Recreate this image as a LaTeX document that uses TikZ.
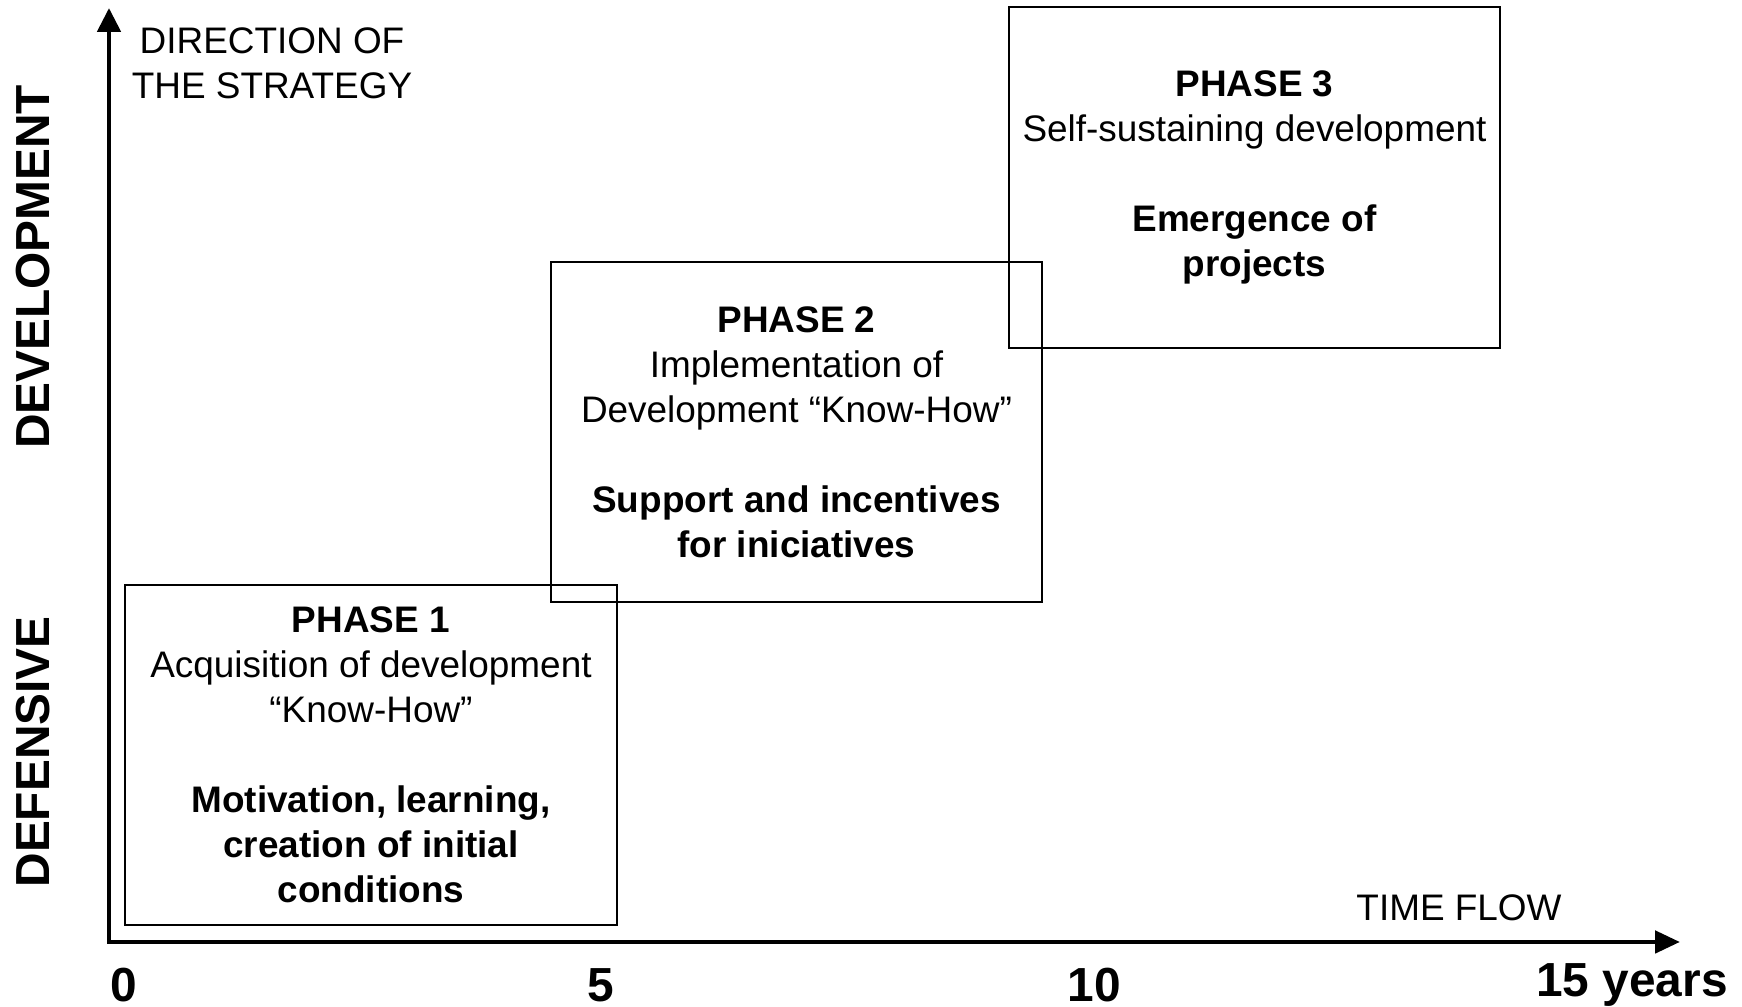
\documentclass[tikz,border=0pt]{standalone}
\usepackage{fontspec}
\setmainfont{Liberation Sans}
\usetikzlibrary{arrows.meta}

\begin{document}
\begin{tikzpicture}[x=0.01cm,y=0.01cm,
	axis/.style={line width=1.4pt,{Triangle[width=0.23cm,length=0.24cm]}-{Triangle[width=0.22cm,length=0.25cm]}},
	phase/.style={draw,line width=0.6pt,inner sep=0pt,minimum width=4.91cm,minimum height=3.40cm,
		align=center,font=\fontsize{10.5}{12.8}\selectfont},
	axislabel/.style={font=\fontsize{10.5}{12.8}\selectfont,align=center},
	big/.style={font=\fontsize{13.6}{15}\selectfont\bfseries}]

	% ---- frame

	\useasboundingbox (0,0) rectangle (1742,1007);

	% ---- coordinates

	\coordinate (O) at (109,65);
	\coordinate (Ytop) at (109,999);
	\coordinate (Xend) at (1680,65);

	% ---- axes

	\draw[axis] (Ytop) -- (O) -- (Xend);

	% ---- axes labels

	\node[axislabel] (dir) at (272,944) {DIRECTION OF\\THE STRATEGY};
	\node[axislabel] (time) at (1459,99) {TIME FLOW};

	\node[big,rotate=90] (dev) at (33,740) {DEVELOPMENT};
	\node[big,rotate=90] (def) at (33,255) {DEFENSIVE};

	% ---- years

	\node[big] (t0) at (124,22) {0};
	\node[big] (t5) at (601,22) {5};
	\node[big] (t10) at (1094,22) {10};
	\node[big] (t15) at (1632,22) {15 years};

	% ---- phases

	\node[phase] (ph1) at (371,252)
		{\textbf{PHASE 1}\\Acquisition of development\\“Know-How”\\[12.8pt]
		\textbf{Motivation, learning,}\\\textbf{creation of initial}\\\textbf{conditions}};

	\node[phase] (ph2) at (796.5,575)
		{\textbf{PHASE 2}\\Implementation of\\Development “Know-How”\\[12.8pt]
		\textbf{Support and incentives}\\\textbf{for iniciatives}};

	\node[phase] (ph3) at (1254.5,829.5)
		{\textbf{PHASE 3}\\Self-sustaining development\\[12.8pt]
		\textbf{Emergence of}\\\textbf{projects}};

\end{tikzpicture}
\end{document}
